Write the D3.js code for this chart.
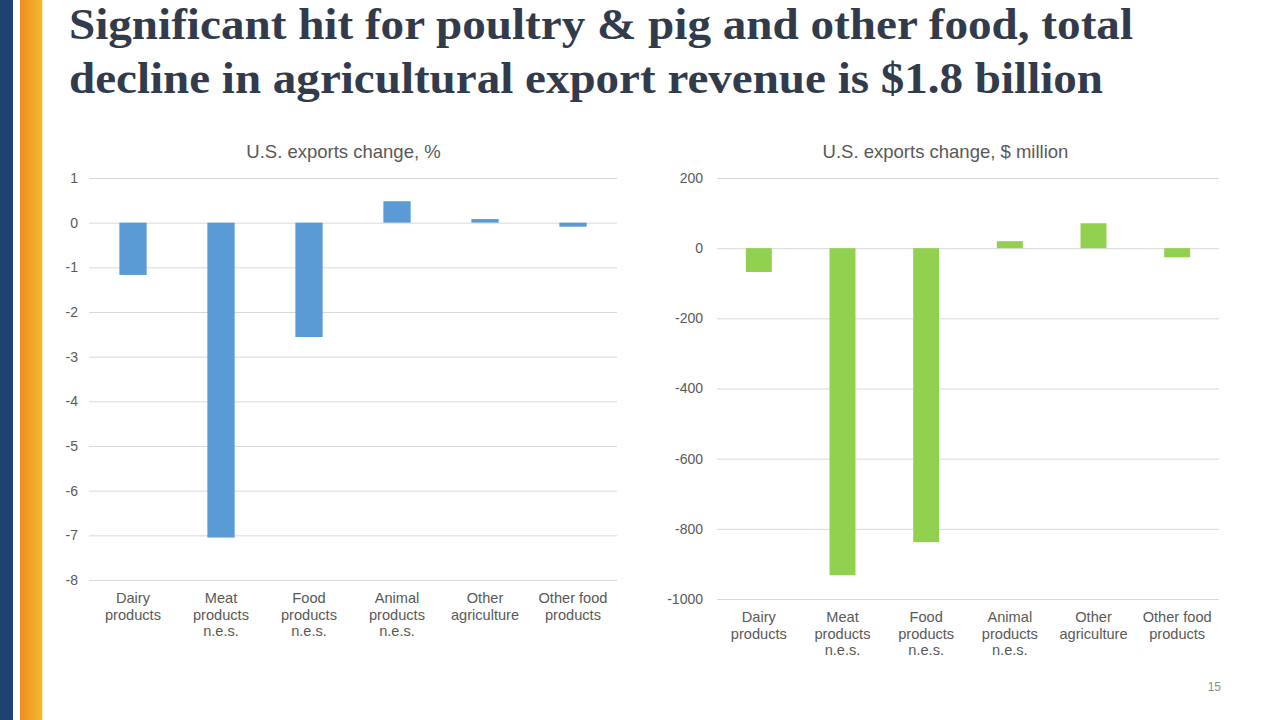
<!DOCTYPE html>
<html><head><meta charset="utf-8">
<script src="https://cdn.jsdelivr.net/npm/d3@7"></script>
<style>body{margin:0;background:#fff}svg{display:block}</style>
</head><body>
<svg id="c" width="1280" height="720"></svg>
<script>
const categories = [["Dairy","products"],["Meat","products","n.e.s."],["Food","products","n.e.s."],["Animal","products","n.e.s."],["Other","agriculture"],["Other food","products"]];
const pctValues = [-1.17, -7.05, -2.56, 0.48, 0.08, -0.09];
const usdValues = [-68, -932, -838, 20, 71, -26];
const pctTicks = [1,0,-1,-2,-3,-4,-5,-6,-7,-8];
const usdTicks = [200,0,-200,-400,-600,-800,-1000];
const titleLines = ["Significant hit for poultry & pig and other food, total","decline in agricultural export revenue is $1.8 billion"];
const chartTitles = ["U.S. exports change, %","U.S. exports change, $ million"];

const svg = d3.select("#c");
const defs = svg.append("defs");
const g = defs.append("linearGradient").attr("id","og").attr("x1","0").attr("x2","1");
g.append("stop").attr("offset","0").attr("stop-color","#EF8D20");
g.append("stop").attr("offset","1").attr("stop-color","#F3B92D");
svg.append("rect").attr("x",0).attr("y",0).attr("width",13).attr("height",720).attr("fill","#1D4171");
svg.append("rect").attr("x",20).attr("y",0).attr("width",22).attr("height",720).attr("fill","url(#og)");
svg.append("rect").attr("x",42).attr("y",0).attr("width",1).attr("height",720).attr("fill","#FBEFC0");

svg.selectAll("text.title").data(titleLines).join("text")
  .attr("x",69).attr("y",(d,i)=>39+i*54)
  .attr("font-family","Liberation Serif, serif").attr("font-weight","bold")
  .attr("font-size",44).attr("fill","#323B4C")
  .attr("textLength",(d,i)=>i===0?1064:1034).attr("lengthAdjust","spacingAndGlyphs")
  .text(d=>d);

function chart(cfg){
  const x = d3.scaleBand().domain(d3.range(categories.length)).range([cfg.x0,cfg.x1]).paddingInner(0.69).paddingOuter(0.345);
  const y = d3.scaleLinear().domain(cfg.domain).range([cfg.yTop,cfg.yBot]);
  const gr = svg.append("g");
  gr.append("text").attr("x",cfg.titleX).attr("y",158).attr("text-anchor","middle")
    .attr("font-family","Liberation Sans, Arial, sans-serif").attr("font-size",18.5).attr("fill","#595959").text(cfg.title);
  const ax = gr.append("g").attr("transform",`translate(${cfg.x0},0)`)
    .call(d3.axisLeft(y).tickValues(cfg.ticks).tickSize(-(cfg.x1-cfg.x0)).tickPadding(cfg.pad).tickFormat(d=>String(d)));
  ax.select(".domain").remove();
  ax.selectAll(".tick line").attr("stroke","#D9D9D9").attr("stroke-width",1);
  ax.selectAll(".tick text").attr("font-family","Liberation Sans, Arial, sans-serif").attr("font-size",14).attr("fill","#595959");
  gr.selectAll("rect.bar").data(cfg.values).join("rect")
    .attr("x",(d,i)=>x(i)).attr("width",x.bandwidth())
    .attr("y",d=>y(Math.max(0,d))).attr("height",d=>Math.abs(y(d)-y(0)))
    .attr("fill",cfg.color);
  const lab = gr.selectAll("text.cat").data(categories).join("text")
    .attr("x",(d,i)=>x(i)+x.bandwidth()/2).attr("y",cfg.labelY).attr("text-anchor","middle")
    .attr("font-family","Liberation Sans, Arial, sans-serif").attr("font-size",14.6).attr("fill","#595959");
  lab.selectAll("tspan").data(d=>d).join("tspan")
    .attr("x",function(){return this.parentNode.getAttribute("x");})
    .attr("dy",(d,i)=>i===0?0:16.7).text(d=>d);
}
chart({x0:89,x1:617,yTop:178,yBot:580,domain:[1,-8],ticks:pctTicks,values:pctValues,color:"#5B9BD5",title:chartTitles[0],titleX:343.5,labelY:603,pad:11});
chart({x0:717,x1:1219,yTop:178,yBot:599,domain:[200,-1000],ticks:usdTicks,values:usdValues,color:"#92D050",title:chartTitles[1],titleX:945.5,labelY:622,pad:14});

svg.append("text").attr("x",1221).attr("y",691).attr("text-anchor","end")
  .attr("font-family","Liberation Sans, Arial, sans-serif").attr("font-size",12).attr("fill","#8C8C8C").text("15");
</script>
</body></html>
